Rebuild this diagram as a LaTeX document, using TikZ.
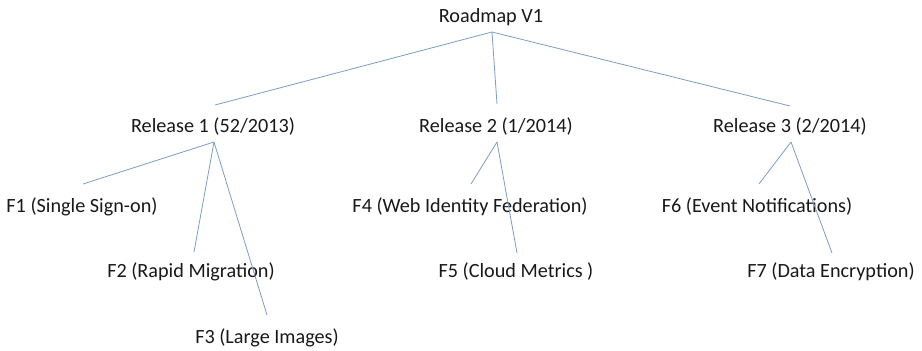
\documentclass[tikz,border=0pt]{standalone}
\usepackage{fontspec}
\setmainfont{Carlito}
\begin{document}
\begin{tikzpicture}[x=1pt,y=-1pt,
  label/.style={anchor=base,inner sep=0pt,font=\fontsize{20.2}{24}\selectfont,text=black!90},
  link/.style={draw={rgb,255:red,125;green,157;blue,201},line width=0.8pt}]
\useasboundingbox[fill=white] (0,0) rectangle (922,351);

% titles and items, placed on their baselines
\node[label] (root) at (491,22)  {Roadmap V1};
\node[label] (r1)   at (213,132) {Release 1 (52/2013)};
\node[label] (r2)   at (496,132) {Release 2 (1/2014)};
\node[label] (r3)   at (790,132) {Release 3 (2/2014)};
\node[label] (f1)   at (82,212)  {F1 (Single Sign-on)};
\node[label] (f2)   at (191,277) {F2 (Rapid Migration)};
\node[label] (f3)   at (267,343) {F3 (Large Images)};
\node[label] (f4)   at (470,212) {F4 (Web Identity Federation)};
\node[label] (f5)   at (516,277) {F5 (Cloud Metrics )};
\node[label] (f6)   at (757,212) {F6 (Event Notifications)};
\node[label] (f7)   at (831,277) {F7 (Data Encryption)};

% branch points and line ends
\coordinate (root-b) at (492,32);
\coordinate (r1-t) at (215,105);
\coordinate (r2-t) at (497,104);
\coordinate (r3-t) at (790,106);
\coordinate (r1-b) at (214,142);
\coordinate (r2-b) at (497,142);
\coordinate (r3-b) at (791,142);
\coordinate (f1-t) at (83,184);
\coordinate (f2-t) at (194,252);
\coordinate (f3-t) at (267,315);
\coordinate (f4-t) at (471,184);
\coordinate (f5-t) at (517,253);
\coordinate (f6-t) at (759,184);
\coordinate (f7-t) at (832,253);

% tree connectors
\draw[link] (root-b) -- (r1-t);
\draw[link] (root-b) -- (r2-t);
\draw[link] (root-b) -- (r3-t);
\draw[link] (r1-b) -- (f1-t);
\draw[link] (r1-b) -- (f2-t);
\draw[link] (r1-b) -- (f3-t);
\draw[link] (r2-b) -- (f4-t);
\draw[link] (r2-b) -- (f5-t);
\draw[link] (r3-b) -- (f6-t);
\draw[link] (r3-b) -- (f7-t);
\end{tikzpicture}
\end{document}
